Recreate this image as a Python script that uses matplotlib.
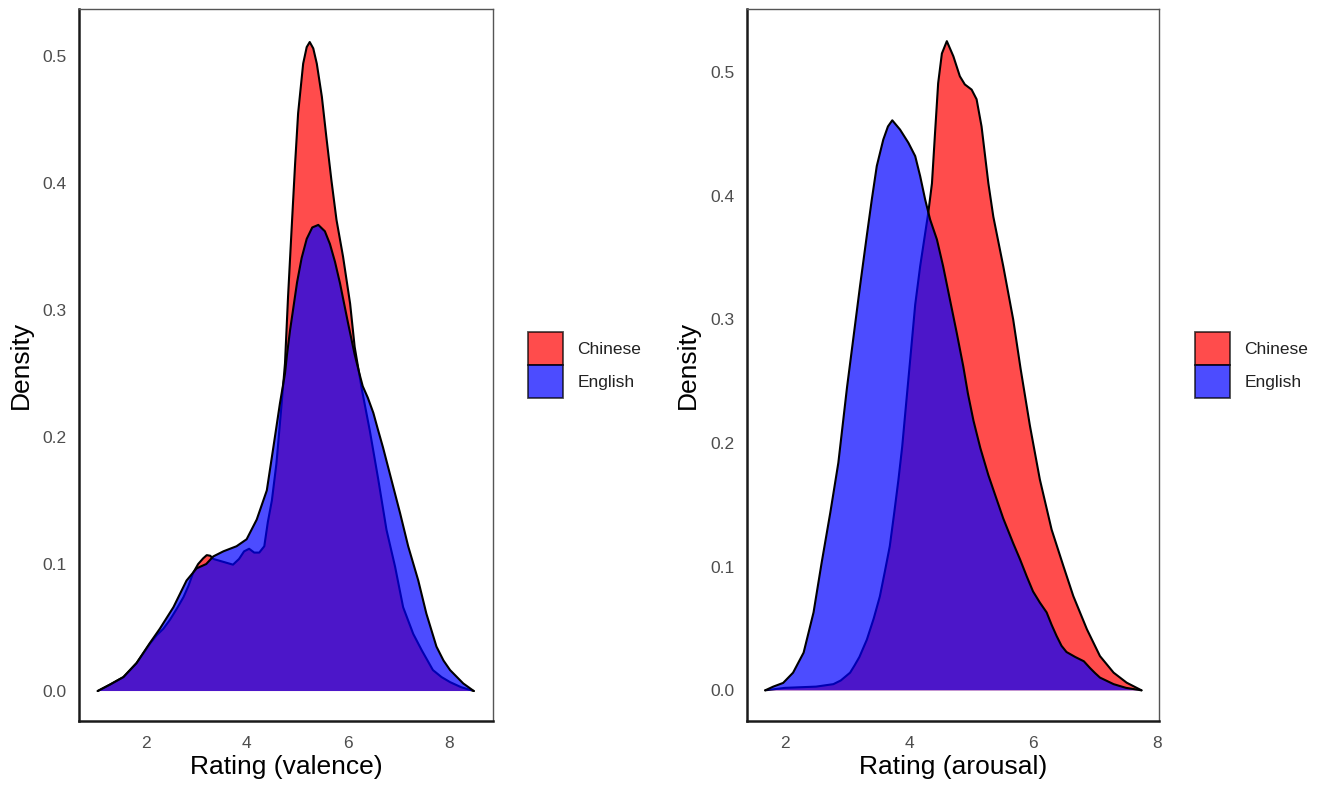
import matplotlib
matplotlib.use("Agg")
import matplotlib.pyplot as plt
from matplotlib.patches import Patch

plt.rcParams['font.family'] = ['Liberation Sans', 'DejaVu Sans']

groups = ["Chinese", "English"]
colors = ["red", "blue"]

# Valence density curves
val_cn_x = [1.05, 1.29, 1.56, 1.82, 2.08, 2.22, 2.35, 2.48, 2.62, 2.75, 2.85, 2.94, 3.04, 3.14, 3.21, 3.28, 3.34,
            3.47, 3.60, 3.73, 3.85, 3.95, 4.05, 4.15, 4.25, 4.35, 4.42, 4.50, 4.59, 4.68, 4.76, 4.82, 4.89, 4.96,
            5.02, 5.12, 5.19, 5.25, 5.32, 5.39, 5.49, 5.58, 5.68, 5.78, 5.91, 6.05, 6.14, 6.28, 6.44, 6.61, 6.77,
            6.94, 7.10, 7.30, 7.47, 7.69, 7.86, 8.03, 8.25, 8.50]
val_cn_y = [0.000, 0.005, 0.011, 0.022, 0.037, 0.044, 0.049, 0.056, 0.065, 0.074, 0.083, 0.093, 0.100, 0.1045, 0.107,
            0.1065, 0.104, 0.1025, 0.101, 0.0995, 0.104, 0.110, 0.112, 0.109, 0.109, 0.114, 0.133, 0.150, 0.179,
            0.220, 0.258, 0.310, 0.363, 0.415, 0.455, 0.494, 0.507, 0.511, 0.506, 0.494, 0.468, 0.436, 0.402,
            0.371, 0.342, 0.305, 0.271, 0.238, 0.205, 0.166, 0.127, 0.098, 0.066, 0.045, 0.032, 0.0165, 0.011,
            0.007, 0.003, 0.000]
val_en_x = [1.05, 1.29, 1.56, 1.82, 2.08, 2.28, 2.55, 2.81, 3.01, 3.20, 3.34, 3.54, 3.80, 4.00, 4.20, 4.40, 4.53,
            4.66, 4.76, 4.80, 4.86, 4.93, 5.00, 5.09, 5.19, 5.30, 5.42, 5.55, 5.65, 5.75, 5.85, 6.01, 6.14, 6.24,
            6.30, 6.40, 6.51, 6.60, 6.70, 6.87, 7.04, 7.20, 7.40, 7.56, 7.76, 7.90, 8.03, 8.29, 8.50]
val_en_y = [0.000, 0.005, 0.011, 0.022, 0.0376, 0.049, 0.066, 0.087, 0.0966, 0.100, 0.106, 0.110, 0.114, 0.1195,
            0.135, 0.158, 0.192, 0.2265, 0.250, 0.265, 0.284, 0.303, 0.322, 0.341, 0.356, 0.365, 0.367, 0.362,
            0.352, 0.338, 0.321, 0.2895, 0.265, 0.249, 0.240, 0.231, 0.219, 0.206, 0.192, 0.166, 0.140, 0.114,
            0.087, 0.061, 0.035, 0.024, 0.0165, 0.006, 0.000]

# Arousal density curves
aro_cn_x = [1.68, 2.00, 2.50, 2.78, 2.90, 3.05, 3.12, 3.20, 3.32, 3.43, 3.53, 3.61, 3.69, 3.76, 3.83, 3.89, 3.94,
            4.02, 4.10, 4.18, 4.31, 4.37, 4.42, 4.47, 4.53, 4.61, 4.715, 4.82, 4.90, 5.01, 5.09, 5.17, 5.28, 5.36,
            5.52, 5.68, 5.80, 5.95, 6.11, 6.30, 6.49, 6.65, 6.87, 7.08, 7.30, 7.51, 7.75]
aro_cn_y = [0.000, 0.002, 0.003, 0.005, 0.008, 0.0143, 0.020, 0.027, 0.041, 0.058, 0.076, 0.096, 0.1166, 0.143,
            0.1706, 0.197, 0.2245, 0.268, 0.312, 0.343, 0.386, 0.410, 0.451, 0.491, 0.515, 0.525, 0.5128, 0.4966,
            0.490, 0.4858, 0.478, 0.456, 0.410, 0.383, 0.343, 0.300, 0.260, 0.214, 0.1706, 0.130, 0.1005, 0.0762,
            0.0493, 0.0277, 0.0143, 0.0062, 0.000]
aro_en_x = [1.68, 1.81, 1.97, 2.13, 2.30, 2.46, 2.59, 2.73, 2.86, 3.00, 3.10, 3.21, 3.32, 3.40, 3.48, 3.585, 3.66,
            3.73, 3.855, 3.99, 4.10, 4.18, 4.26, 4.34, 4.45, 4.55, 4.66, 4.77, 4.875, 4.95, 5.04, 5.15, 5.28, 5.41,
            5.52, 5.68, 5.79, 5.90, 6.00, 6.11, 6.22, 6.30, 6.38, 6.46, 6.54, 6.68, 6.82, 6.92, 7.00, 7.08, 7.30,
            7.50, 7.75]
aro_en_y = [0.000, 0.003, 0.006, 0.0143, 0.0305, 0.063, 0.103, 0.1436, 0.184, 0.245, 0.284, 0.327, 0.368, 0.397,
            0.424, 0.4454, 0.456, 0.461, 0.4535, 0.4428, 0.432, 0.4158, 0.397, 0.3808, 0.3646, 0.343, 0.316,
            0.289, 0.262, 0.240, 0.218, 0.196, 0.174, 0.155, 0.139, 0.119, 0.106, 0.092, 0.080, 0.071, 0.063,
            0.053, 0.044, 0.036, 0.031, 0.027, 0.0235, 0.018, 0.014, 0.0103, 0.005, 0.002, 0.000]

x_ticks = [2, 4, 6, 8]
y_ticks = [0.0, 0.1, 0.2, 0.3, 0.4, 0.5]
x_titles = ["Rating (valence)", "Rating (arousal)"]

W, H = 1324, 787
fig = plt.figure(figsize=(W / 100, H / 100), dpi=100)

panels = [
    dict(rect=[79 / W, 1 - 721 / H, (493 - 79) / W, (721 - 9) / H], xlim=(0.68, 8.88), ylim=(-0.0236, 0.537),
         curves=[(val_cn_x, val_cn_y), (val_en_x, val_en_y)], leg=(528 / W, 1 - 365 / H)),
    dict(rect=[746.7 / W, 1 - 721 / H, (1159 - 746.7) / W, (721 - 9) / H], xlim=(1.382, 8.032), ylim=(-0.0248, 0.551),
         curves=[(aro_cn_x, aro_cn_y), (aro_en_x, aro_en_y)], leg=(1195 / W, 1 - 365 / H)),
]

for i, p in enumerate(panels):
    ax = fig.add_axes(p["rect"])
    z = 1
    for (xs, ys), c in zip(p["curves"], colors):
        ax.fill_between(xs, 0, ys, facecolor=c, alpha=0.7, linewidth=0, zorder=z)
        ax.plot(xs, ys, color="black", lw=1.5, solid_joinstyle="round", solid_capstyle="round", zorder=z + 1)
        z += 2
    ax.set_xlim(*p["xlim"])
    ax.set_ylim(*p["ylim"])
    ax.set_xticks(x_ticks)
    ax.set_yticks(y_ticks)
    ax.set_yticklabels([f"{v:.1f}" for v in y_ticks])
    ax.tick_params(length=0, labelsize=12.5, labelcolor="#4d4d4d", pad=9)
    ax.tick_params(axis="x", pad=11)
    for s in ["left", "bottom"]:
        ax.spines[s].set_linewidth(1.8)
        ax.spines[s].set_color("#1a1a1a")
    for s in ["top", "right"]:
        ax.spines[s].set_linewidth(1.0)
        ax.spines[s].set_color("#555555")
    ax.set_xlabel(x_titles[i], fontsize=19, labelpad=3)
    ax.set_ylabel("Density", fontsize=19, labelpad=7)
    handles = [Patch(facecolor=c, alpha=0.7, edgecolor="black", linewidth=1.3) for c in colors]
    fig.legend(handles, groups, loc="center left", bbox_to_anchor=p["leg"], frameon=False,
               fontsize=12.5, handlelength=2.0, handleheight=2.55, labelspacing=0.0, handletextpad=0.85,
               borderpad=0, borderaxespad=0, labelcolor="#222222")

fig.savefig("out.png", dpi=100)
